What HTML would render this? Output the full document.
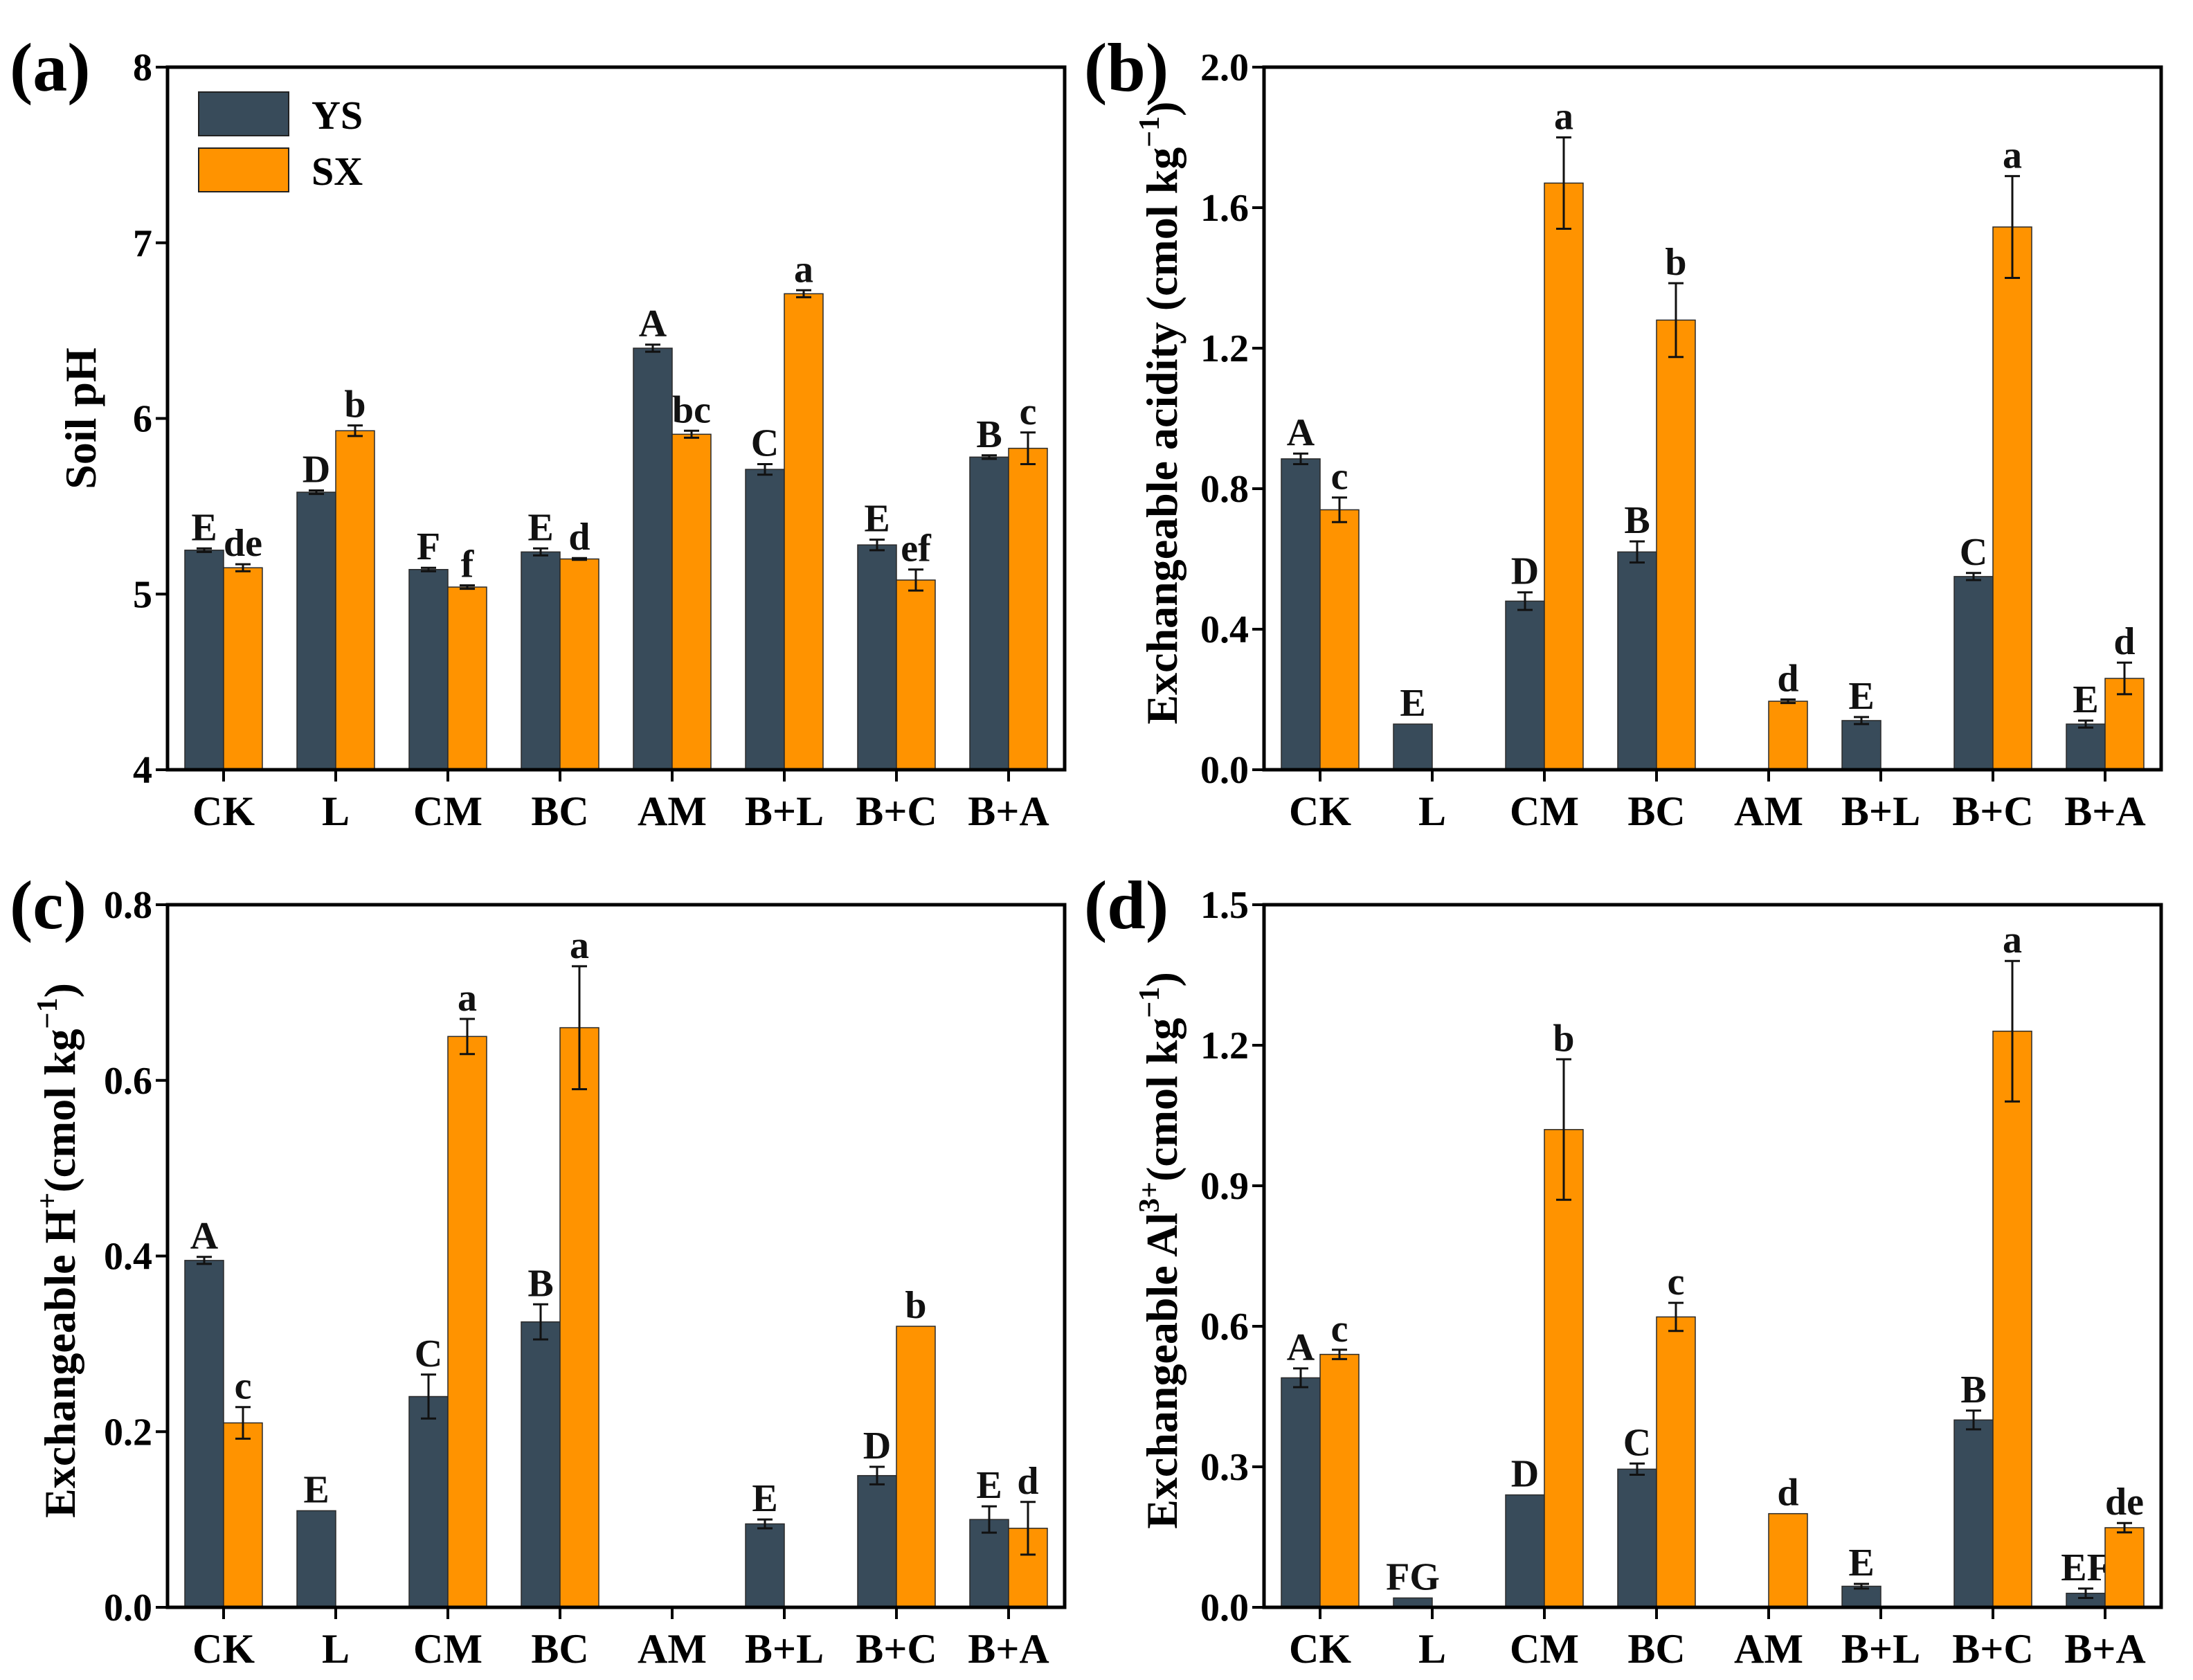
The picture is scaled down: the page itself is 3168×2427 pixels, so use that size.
<!DOCTYPE html>
<html><head><meta charset="utf-8"><style>
html,body{margin:0;padding:0;background:#fff;}
svg{display:block;font-family:"Liberation Serif","DejaVu Serif",serif;font-weight:bold;}
</style></head><body>
<svg id="fig" width="3168" height="2427" viewBox="0 0 3168 2427" xmlns="http://www.w3.org/2000/svg"></svg>
<script>
const categories = ["CK","L","CM","BC","AM","B+L","B+C","B+A"];
// panel a: soil pH
const phYS = [5.25,5.58,5.14,5.24,6.40,5.71,5.28,5.78];
const phYSerr = [0.01,0.01,0.01,0.02,0.02,0.03,0.03,0.01];
const phSX = [5.15,5.93,5.04,5.20,5.91,6.71,5.08,5.83];
const phSXerr = [0.02,0.03,0.01,0.005,0.02,0.02,0.06,0.09];
const phYSlet = ["E","D","F","E","A","C","E","B"];
const phSXlet = ["de","b","f","d","bc","a","ef","c"];
const phTicks = ["4","5","6","7","8"];
// panel b: exchangeable acidity
const eaYS = [0.885,0.13,0.48,0.62,0,0.14,0.55,0.13];
const eaYSerr = [0.015,0,0.025,0.03,0,0.01,0.01,0.01];
const eaSX = [0.74,0,1.67,1.28,0.195,0,1.545,0.26];
const eaSXerr = [0.035,0,0.13,0.105,0.005,0,0.145,0.045];
const eaYSlet = ["A","E","D","B","","E","C","E"];
const eaSXlet = ["c","","a","b","d","","a","d"];
const eaTicks = ["0.0","0.4","0.8","1.2","1.6","2.0"];
// panel c: exchangeable H+
const hYS = [0.395,0.11,0.24,0.325,0,0.095,0.15,0.10];
const hYSerr = [0.004,0,0.025,0.02,0,0.005,0.01,0.015];
const hSX = [0.21,0,0.65,0.66,0,0,0.32,0.09];
const hSXerr = [0.018,0,0.02,0.07,0,0,0,0.03];
const hYSlet = ["A","E","C","B","","E","D","E"];
const hSXlet = ["c","","a","a","","","b","d"];
const hTicks = ["0.0","0.2","0.4","0.6","0.8"];
// panel d: exchangeable Al3+
const alYS = [0.49,0.02,0.24,0.295,0,0.045,0.40,0.03];
const alYSerr = [0.02,0,0,0.012,0,0.005,0.02,0.01];
const alSX = [0.54,0,1.02,0.62,0.20,0,1.23,0.17];
const alSXerr = [0.01,0,0.15,0.03,0,0,0.15,0.01];
const alYSlet = ["A","FG","D","C","","E","B","EF"];
const alSXlet = ["c","","b","c","d","","a","de"];
const alTicks = ["0.0","0.3","0.6","0.9","1.2","1.5"];

const NS = "http://www.w3.org/2000/svg";
const svg = document.getElementById("fig");
function mk(tag, attrs, parent){
  const e = document.createElementNS(NS, tag);
  for (const k in attrs) e.setAttribute(k, attrs[k]);
  (parent||svg).appendChild(e);
  return e;
}
const DARK="#384b5a", ORANGE="#ff9300";

function panel(cfg){
  const g = mk("g",{});
  
  
  const L=cfg.left, R=cfg.left+1296, T=cfg.top, B=cfg.top+1015;
  const yMin=cfg.min, yMax=cfg.max;
  const y = v => B - (v-yMin)/(yMax-yMin)*(B-T);
  const step = 1296/categories.length;
  const cx = i => L + step*(i+0.5);
  const series = [[cfg.ys,cfg.yse,cfg.ysl,DARK,-1],[cfg.sx,cfg.sxe,cfg.sxl,ORANGE,0]];
  series.forEach(([vals,errs,lets,col,off],si)=>{
    vals.forEach((v,i)=>{
      const x0 = cx(i)+off*56;
      if (v>yMin){
        const r = mk("rect",{x:x0,y:y(v),width:56,height:B-y(v),fill:col,stroke:"#2a2a2a","stroke-width":1.5},g);
        
        
      }
      let top = y(v);
      if (errs[i]>0){
        const xm=x0+28, t=y(v+errs[i]), b=y(v-errs[i]);
        const eb = mk("path",{d:`M${xm},${t}V${b}M${xm-11},${t}H${xm+11}M${xm-11},${b}H${xm+11}`,stroke:"#111","stroke-width":3,fill:"none"},g);
        
        
        top = t;
      }
      if (lets[i]){
        const tx = mk("text",{x:x0+28,y:top-12,"font-size":56,"text-anchor":"middle",fill:"#111"},g);
        tx.textContent = lets[i];
        
        
      }
    });
  });
  const fr = mk("rect",{x:L,y:T,width:R-L,height:B-T,fill:"none",stroke:"#000","stroke-width":5},g);
  
  
  cfg.ticks.forEach((lab,k)=>{
    const v = yMin + k*(yMax-yMin)/(cfg.ticks.length-1);
    mk("line",{x1:L-17,x2:L,y1:y(v),y2:y(v),stroke:"#000","stroke-width":4},g);
    const t = mk("text",{x:L-22,y:y(v)+19,"font-size":56,"text-anchor":"end",fill:"#000"},g);
    t.textContent = lab;
    
    
  });
  categories.forEach((c,i)=>{
    mk("line",{x1:cx(i),x2:cx(i),y1:B,y2:B+17,stroke:"#000","stroke-width":4},g);
    const t = mk("text",{x:cx(i),y:B+80,"font-size":60,"text-anchor":"middle",fill:"#000"},g);
    t.textContent = c;
    
    
  });
  const pl = mk("text",{x:cfg.labx,y:T+34,"font-size":100,fill:"#000"},g);
  pl.textContent = cfg.letter;
  
  
  const yt = mk("text",{transform:`translate(${cfg.tx},${(T+B)/2+cfg.tdy}) rotate(-90)`,"font-size":64,"text-anchor":"middle",fill:"#000"},g);
  yt.innerHTML = cfg.title;
  
  
}

panel({name:"panel-a-soil-ph",left:242,top:97,min:4,max:8,ys:phYS,yse:phYSerr,sx:phSX,sxe:phSXerr,ysl:phYSlet,sxl:phSXlet,ticks:phTicks,letter:"(a)",labx:14,tx:138,tdy:0,title:"Soil pH"});
panel({name:"panel-b-exchangeable-acidity",left:1826,top:97,min:0,max:2,ys:eaYS,yse:eaYSerr,sx:eaSX,sxe:eaSXerr,ysl:eaYSlet,sxl:eaSXlet,ticks:eaTicks,letter:"(b)",labx:1566,tx:1700,tdy:-8,title:'Exchangeable acidity (cmol kg<tspan dy="-26" font-size="42">−1</tspan><tspan dy="26">)</tspan>'});
panel({name:"panel-c-exchangeable-h",left:242,top:1307,min:0,max:0.8,ys:hYS,yse:hYSerr,sx:hSX,sxe:hSXerr,ysl:hYSlet,sxl:hSXlet,ticks:hTicks,letter:"(c)",labx:14,tx:108,tdy:-8,title:'Exchangeable H<tspan dy="-26" font-size="42">+</tspan><tspan dy="26">(cmol kg</tspan><tspan dy="-26" font-size="42">−1</tspan><tspan dy="26">)</tspan>'});
panel({name:"panel-d-exchangeable-al",left:1826,top:1307,min:0,max:1.5,ys:alYS,yse:alYSerr,sx:alSX,sxe:alSXerr,ysl:alYSlet,sxl:alSXlet,ticks:alTicks,letter:"(d)",labx:1566,tx:1700,tdy:-8,title:'Exchangeable Al<tspan dy="-26" font-size="42">3+</tspan><tspan dy="26">(cmol kg</tspan><tspan dy="-26" font-size="42">−1</tspan><tspan dy="26">)</tspan>'});

const lg = mk("g",{});


const l1 = mk("rect",{x:287,y:133,width:130,height:63,fill:DARK,stroke:"#222","stroke-width":2},lg);


const l2 = mk("rect",{x:287,y:214,width:130,height:63,fill:ORANGE,stroke:"#222","stroke-width":2},lg);


const t1 = mk("text",{x:450,y:186,"font-size":58,fill:"#000"},lg);
t1.textContent="YS";


const t2 = mk("text",{x:450,y:267,"font-size":58,fill:"#000"},lg);
t2.textContent="SX";


</script>
</body></html>
